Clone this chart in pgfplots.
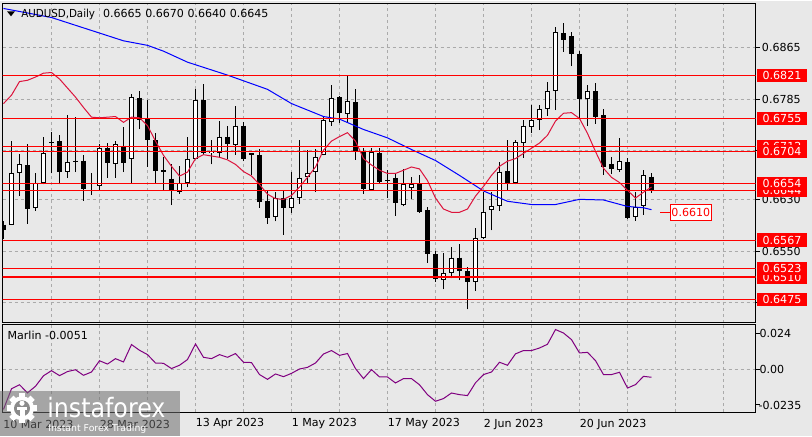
\documentclass[border=0pt]{standalone}
\usepackage{pgfplots}
\pgfplotsset{compat=1.18}
\usepackage{pgfplotstable}
\usepackage{fontspec}
\setmainfont{DejaVu Sans}

\definecolor{bg}{RGB}{232,232,232}
\definecolor{gridc}{RGB}{170,170,170}
\definecolor{lvl}{RGB}{255,0,0}
\definecolor{mared}{RGB}{220,20,60}
\definecolor{mablue}{RGB}{0,0,255}
\definecolor{marlin}{RGB}{128,0,128}
\definecolor{wm}{RGB}{110,110,110}

% white candles: i O H L C
\pgfplotstableread{
i O H L C
1 0.6591 0.6720 0.6590 0.6670
2 0.6670 0.6700 0.6635 0.6684
4 0.6617 0.6671 0.6612 0.6656
5 0.6655 0.6726 0.6653 0.6701
8 0.6672 0.6761 0.6663 0.6687
9 0.6687 0.6758 0.6672 0.6690
12 0.6650 0.6715 0.6645 0.6710
14 0.6685 0.6720 0.6663 0.6715
16 0.6692 0.6793 0.6655 0.6788
22 0.6642 0.6682 0.6639 0.6656
23 0.6656 0.6727 0.6649 0.6693
24 0.6693 0.6801 0.6692 0.6783
26 0.6701 0.6722 0.6684 0.6705
27 0.6702 0.6751 0.6694 0.6727
29 0.6714 0.6775 0.6699 0.6744
34 0.6603 0.6641 0.6596 0.6632
36 0.6616 0.6672 0.6609 0.6632
37 0.6632 0.6721 0.6623 0.6663
38 0.6665 0.6707 0.6653 0.6671
39 0.6672 0.6708 0.6641 0.6695
40 0.6698 0.6759 0.6698 0.6752
41 0.6749 0.6806 0.6744 0.6786
43 0.6762 0.6820 0.6748 0.6782
46 0.6644 0.6709 0.6644 0.6703
50 0.6622 0.6677 0.6619 0.6653
51 0.6647 0.6665 0.6630 0.6653
55 0.6506 0.6547 0.6491 0.6516
56 0.6516 0.6557 0.6508 0.6540
59 0.6502 0.6585 0.6489 0.6570
60 0.6570 0.6641 0.6568 0.6611
61 0.6614 0.6641 0.6582 0.6619
62 0.6620 0.6688 0.6612 0.6673
64 0.6655 0.6721 0.6653 0.6718
65 0.6717 0.6753 0.6694 0.6744
66 0.6742 0.6776 0.6733 0.6752
67 0.6752 0.6776 0.6737 0.6769
68 0.6770 0.6811 0.6759 0.6797
69 0.6797 0.6896 0.6768 0.6888
73 0.6785 0.6807 0.6743 0.6798
77 0.6675 0.6725 0.6672 0.6689
79 0.6603 0.6642 0.6597 0.6618
80 0.6619 0.6675 0.6606 0.6667
}\wh

% black candles: i O H L C
\pgfplotstableread{
i O H L C
0 0.6591 0.6596 0.6569 0.6582
3 0.6683 0.6715 0.6592 0.6615
6 0.6719 0.6734 0.6670 0.6718
7 0.6720 0.6729 0.6653 0.6672
10 0.6690 0.6698 0.6628 0.6646
11 0.6655 0.6670 0.6637 0.6653
13 0.6710 0.6717 0.6663 0.6686
15 0.6713 0.6742 0.6672 0.6686
17 0.6787 0.6797 0.6738 0.6753
18 0.6754 0.6783 0.6680 0.6721
19 0.6721 0.6733 0.6655 0.6674
20 0.6675 0.6695 0.6645 0.6672
21 0.6662 0.6684 0.6621 0.6644
25 0.6783 0.6809 0.6699 0.6702
28 0.6727 0.6744 0.6692 0.6715
30 0.6744 0.6749 0.6689 0.6692
31 0.6701 0.6701 0.6668 0.6698
32 0.6698 0.6708 0.6617 0.6626
33 0.6628 0.6643 0.6592 0.6601
35 0.6632 0.6645 0.6575 0.6617
42 0.6788 0.6790 0.6748 0.6763
44 0.6780 0.6801 0.6691 0.6704
45 0.6704 0.6709 0.6639 0.6646
47 0.6702 0.6710 0.6655 0.6657
48 0.6660 0.6676 0.6632 0.6658
49 0.6663 0.6671 0.6605 0.6624
52 0.6654 0.6668 0.6609 0.6610
53 0.6613 0.6618 0.6532 0.6545
54 0.6545 0.6550 0.6503 0.6507
57 0.6540 0.6561 0.6505 0.6519
58 0.6519 0.6526 0.6460 0.6503
63 0.6674 0.6721 0.6643 0.6655
70 0.6887 0.6903 0.6858 0.6877
71 0.6882 0.6889 0.6836 0.6854
72 0.6855 0.6859 0.6755 0.6785
74 0.6797 0.6810 0.6747 0.6757
75 0.6760 0.6770 0.6668 0.6680
76 0.6685 0.6696 0.6669 0.6677
78 0.6687 0.6694 0.6600 0.6601
81 0.6665 0.6670 0.6640 0.6645
}\bk

% fast moving average (red)
\pgfplotstableread{
i v
0 0.6778
1 0.6791
2 0.6812
3 0.6814
4 0.6819
5 0.6825
6 0.6826
7 0.6816
8 0.6802
9 0.6788
10 0.6772
11 0.6757
12 0.6756
13 0.6757
14 0.6758
15 0.6749
16 0.6757
17 0.6756
18 0.6744
19 0.6720
20 0.6698
21 0.6681
22 0.6666
23 0.6672
24 0.6693
25 0.6699
26 0.6697
27 0.6695
28 0.6691
29 0.6684
30 0.6673
31 0.6666
32 0.6653
33 0.6638
34 0.6631
35 0.6630
36 0.6636
37 0.6649
38 0.6664
39 0.6680
40 0.6706
41 0.6720
42 0.6727
43 0.6733
44 0.6720
45 0.6693
46 0.6683
47 0.6675
48 0.6670
49 0.6670
50 0.6675
51 0.6680
52 0.6677
53 0.6659
54 0.6632
55 0.6615
56 0.6610
57 0.6610
58 0.6615
59 0.6635
60 0.6650
61 0.6667
62 0.6681
63 0.6689
64 0.6693
65 0.6701
66 0.6709
67 0.6717
68 0.6729
69 0.6751
70 0.6763
71 0.6764
72 0.6755
73 0.6732
74 0.6704
75 0.6678
76 0.6664
77 0.6656
78 0.6644
79 0.6632
80 0.6641
81 0.6649
}\mared

% slow moving average (blue)
\pgfplotstableread{
i v
0 0.6925
6 0.6911
12 0.6887
15 0.6875
18 0.6868
20 0.6859
23 0.6842
28 0.6822
33 0.6800
36 0.6778
40 0.6758
42 0.6754
45 0.6738
48 0.6725
51 0.6707
54 0.6690
57 0.6667
60 0.6643
63 0.6627
66 0.6622
69 0.6622
72 0.6630
75 0.6629
78 0.6619
80 0.6617
81 0.6614
}\mablue

% Marlin oscillator
\pgfplotstableread{
i v
0 -0.0265
1 -0.0128
2 -0.0101
3 -0.0155
4 -0.0111
5 -0.0041
6 -0.0007
7 -0.0040
8 -0.0013
9 -0.0001
10 -0.0038
11 -0.0016
12 0.0059
13 0.0037
14 0.0073
15 0.0051
16 0.0167
17 0.0129
18 0.0100
19 0.0044
20 0.0042
21 0.0007
22 0.0029
23 0.0067
24 0.0171
25 0.0082
26 0.0073
27 0.0100
28 0.0082
29 0.0107
30 0.0049
31 0.0047
32 -0.0033
33 -0.0065
34 -0.0029
35 -0.0047
36 -0.0025
37 0.0004
38 0.0015
39 0.0044
40 0.0104
41 0.0127
42 0.0095
43 0.0107
44 0.0007
45 -0.0060
46 0.0000
47 -0.0049
48 -0.0049
49 -0.0089
50 -0.0060
51 -0.0060
52 -0.0101
53 -0.0167
54 -0.0211
55 -0.0193
56 -0.0156
57 -0.0167
58 -0.0173
59 -0.0088
60 -0.0033
61 -0.0016
62 0.0049
63 0.0029
64 0.0105
65 0.0127
66 0.0127
67 0.0144
68 0.0169
69 0.0267
70 0.0244
71 0.0200
72 0.0111
73 0.0115
74 0.0060
75 -0.0033
76 -0.0033
77 -0.0018
78 -0.0123
79 -0.0100
80 -0.0045
81 -0.0051
}\marl

\newcommand{\lab}{\fontsize{8.3}{10}\selectfont}
\newcommand{\rl}[2]{\node[fill=lvl, text=white, inner sep=0pt, minimum width=37.5pt, minimum height=10pt, anchor=west, font=\lab] at (756.7,#1) {#2};}

\pgfplotsset{
  mt/.style={scale only axis, xmin=-0.1, xmax=94.03,
    axis line style={black, line width=0.75pt},
    xtick={6,12,...,90}, xticklabels={}, xtick style={draw=none},
    yticklabels={}, ytick pos=right, ytick style={black, line width=0.75pt},
    tick align=outside, major tick length=3pt,
    grid=major, major grid style={gridc, dash pattern=on 2.25pt off 2.25pt, line width=0.75pt},
    clip mode=individual, scaled y ticks=false},
  wick/.style={draw=none, mark=none, forget plot, error bars/.cd, y dir=plus, y explicit,
    error mark=none, error bar style={draw=black, line width=0.75pt}},
  body/.style={draw=none, mark=none, forget plot, error bars/.cd, y dir=minus, y explicit,
    error mark=none, error bar style={#1}},
}

\begin{document}
\begin{tikzpicture}[x=0.75pt,y=-0.75pt]
\fill[bg] (0,0) rectangle (812,435);

\begin{axis}[mt, at={(2.025pt,-2.025pt)}, anchor=north west,
  width=564.75pt, height=238.95pt, ymin=0.64395, ymax=0.69319,
  ytick={0.6470,0.6550,0.6630,0.6705,0.6785,0.6865}]
% wicks
\addplot[wick] table[x=i, y=L, y error expr=\thisrow{H}-\thisrow{L}] {\wh};
\addplot[wick] table[x=i, y=L, y error expr=\thisrow{H}-\thisrow{L}] {\bk};
% black bodies
\addplot[body={draw=black, line width=3.75pt}] table[x=i, y=O, y error expr={max(\thisrow{O}-\thisrow{C},0.00016)}] {\bk};
% white bodies: outline then fill
\addplot[body={draw=black, line width=3.75pt}] table[x=i, y=C, y error expr={max(\thisrow{C}-\thisrow{O},0.00016)}] {\wh};
\addplot[body={draw=white, line width=2.25pt}] table[x=i, y expr=\thisrow{C}-0.000155, y error expr={max(\thisrow{C}-\thisrow{O}-0.00031,0)}] {\wh};
% moving averages
\addplot[mablue, line width=0.75pt, mark=none, forget plot] table[x=i, y=v] {\mablue};
\addplot[mared, line width=0.75pt, mark=none, forget plot] table[x=i, y=v] {\mared};
% horizontal levels
\foreach \lv in {0.6821,0.6755,0.6712,0.6704,0.6654,0.6644,0.6567,0.6523,0.6510,0.6475} {
  \addplot[lvl, line width=0.8pt, mark=none, forget plot] coordinates {(-1,\lv) (95,\lv)};
}
\end{axis}

\begin{axis}[mt, at={(2.025pt,-242.475pt)}, anchor=north west,
  width=564.75pt, height=65.625pt, ymin=-0.02833, ymax=0.0300,
  ytick={0}, extra y ticks={-0.0235,0.024}, extra y tick labels={},
  extra y tick style={grid=none}]
\addplot[marlin, line width=0.75pt, mark=none, forget plot] table[x=i, y=v] {\marl};
\end{axis}

% title
\fill[black] (7,10) -- (15,10) -- (11,15) -- cycle;
\node[anchor=west, inner sep=0pt, font=\lab] at (21,13) {\scalebox{0.93}[1]{AUDUSD,Daily}\hspace{6pt}0.6665 0.6670 0.6640 0.6645};
\node[anchor=west, inner sep=0pt, font=\lab] at (7.3,334) {Marlin -0.0051};

% right price scale
\foreach \yy/\tx in {46/0.6865, 97.75/0.6785, 198.04/0.6630, 249.8/0.6550}
  \node[anchor=west, inner sep=0pt, font=\lab] at (761.7,\yy) {\tx};
\rl{74.46}{0.6821}
\rl{117.16}{0.6755}
\rl{144.98}{0.6712}
\rl{150.16}{0.6704}
\rl{188.98}{0.6644}
\rl{182.51}{0.6654}
\rl{238.8}{0.6567}
\rl{275.68}{0.6510}
\rl{267.27}{0.6523}
\rl{298.33}{0.6475}

% blue MA value tag
\draw[lvl, line width=0.75pt] (660,211) -- (670,211);
\node[draw=lvl, line width=0.75pt, fill=white, text=lvl, inner sep=0pt, minimum width=30.5pt, minimum height=12pt, anchor=west, font=\lab] at (670,211) {0.6610};

% indicator scale
\node[anchor=west, inner sep=0pt, font=\lab] at (759.3,332.3) {0.024};
\node[anchor=west, inner sep=0pt, font=\lab] at (759.3,368.3) {0.00};
\node[anchor=west, inner sep=0pt, font=\lab] at (758.3,404) {-0.0235};

% dates
\foreach \xx/\tx in {3/10 Mar 2023, 99.5/28 Mar 2023, 195.5/13 Apr 2023, 291.5/1 May 2023, 387.5/17 May 2023, 483.5/2 Jun 2023, 579.5/20 Jun 2023}
  \node[anchor=west, inner sep=0pt, font=\lab] at (\xx,422.7) {\tx};

% watermark
\fill[wm, opacity=0.55] (0,390) rectangle (180,435);
\begin{scope}[white]
\fill (22,407) circle (12);
\foreach \a in {0,45,...,315}
  \fill[rotate around={\a:(22,407)}] (19,392) rectangle (25,397);
\fill[wm!80!white] (22,407) circle (8);
\fill (22,402) circle (2.6);
\fill (17,406) rectangle (27,409);
\fill (19.5,409) rectangle (24.5,418);
\end{scope}
\node[anchor=base west, inner sep=0pt, text=white] at (47,416) {\scalebox{0.89}[1]{\fontsize{20}{20}\selectfont instaforex}};
\node[anchor=base west, inner sep=0pt, text=white] at (48,430) {\fontsize{7}{7}\selectfont Instant Forex Trading};
\end{tikzpicture}
\end{document}
